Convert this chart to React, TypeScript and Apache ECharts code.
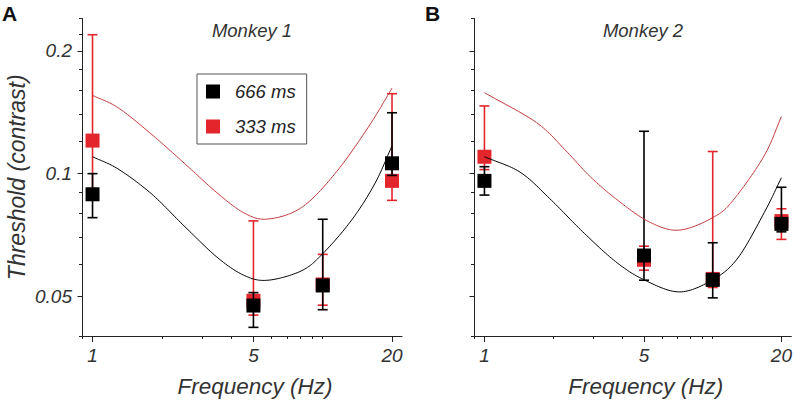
import React, { useEffect, useRef } from 'react';
import * as echarts from 'echarts';

// ---------- data ----------
const frequencies = [1, 5, 10, 20];

// Monkey 1
const m1BlackMean = [0.089, 0.0475, 0.0532, 0.106];
const m1BlackLow = [0.078, 0.042, 0.0464, 0.099];
const m1BlackHigh = [0.1, 0.0511, 0.0773, 0.141];
const m1RedMean = [0.1205, 0.0488, 0.0535, 0.096];
const m1RedLow = [0.092, 0.045, 0.0476, 0.086];
const m1RedHigh = [0.219, 0.0766, 0.0634, 0.157];

const m1BlackFitF = [1, 1.29, 1.8, 2.52, 3.51, 4.59, 5.79, 8.09, 10.04, 13.34, 16.84, 20];
const m1BlackFitV = [0.11, 0.1027, 0.0893, 0.0741, 0.0621, 0.0562, 0.0548, 0.0578, 0.0638, 0.0769, 0.0945, 0.117];
const m1RedFitF = [1, 1.29, 1.8, 2.52, 3.51, 4.59, 5.79, 8.09, 11.29, 15.75, 20];
const m1RedFitV = [0.1555, 0.1451, 0.125, 0.1057, 0.0893, 0.0799, 0.0774, 0.0826, 0.0999, 0.1298, 0.162];

// Monkey 2
const m2BlackMean = [0.096, 0.063, 0.0549, 0.0753];
const m2BlackLow = [0.0886, 0.0548, 0.0496, 0.072];
const m2BlackHigh = [0.104, 0.127, 0.0677, 0.0926];
const m2RedMean = [0.11, 0.0615, 0.0552, 0.0765];
const m2RedLow = [0.1023, 0.058, 0.0526, 0.069];
const m2RedHigh = [0.1465, 0.0664, 0.1133, 0.082];

const m2BlackFitF = [1, 1.43, 1.93, 2.69, 3.75, 4.98, 7.14, 10.03, 12.88, 16.82, 20];
const m2BlackFitV = [0.11, 0.1009, 0.0869, 0.0721, 0.0609, 0.055, 0.0513, 0.055, 0.0621, 0.0803, 0.0977];
const m2RedFitF = [1, 1.69, 2.28, 2.87, 3.75, 5.24, 7.14, 10.2, 12.46, 16.82, 20];
const m2RedFitV = [0.1579, 0.1334, 0.1136, 0.099, 0.0869, 0.0763, 0.0727, 0.0785, 0.0869, 0.1107, 0.138];

// axes
const xMin = 0.9;
const xMax = 22.1;
const yMin = 0.04;
const yMax = 0.24;
const xMinorTicks = [0.9, 1, 2, 3, 4, 5, 6, 7, 8, 9, 10, 20];
const xMajorTicks = [1, 5, 20];
const yMinorTicksA = [0.04, 0.05, 0.06, 0.07, 0.08, 0.09, 0.1, 0.12, 0.14, 0.16, 0.18, 0.2, 0.22, 0.24];
const yMinorTicksB = [0.04, 0.05, 0.06, 0.07, 0.08, 0.09, 0.1, 0.12, 0.14, 0.16, 0.18, 0.2, 0.24];
const yMajorTicks = [0.05, 0.1, 0.2];

const seriesNames = ['666 ms', '333 ms'];
const panelTitles = ['Monkey 1', 'Monkey 2'];
const panelLetters = ['A', 'B'];

const BLACK = '#000000';
const RED = '#e3262c';
const RED_FIT = '#c0393e';
const AXIS = '#222222';
const FONT = '"Liberation Sans", Arial, Helvetica, sans-serif';

const L = (v: number) => Math.log10(v);

const fmtY = (v: number) => {
  const r = Math.round(Math.pow(10, v) * 100) / 100;
  return String(r);
};
const fmtX = (v: number) => String(Math.round(Math.pow(10, v)));

// Catmull-Rom spline through pixel points (rendering only)
function spline(pts: number[][], steps: number): number[][] {
  const n = pts.length;
  if (n < 3) return pts;
  const out: number[][] = [];
  const get = (i: number) => {
    if (i < 0) return [2 * pts[0][0] - pts[1][0], 2 * pts[0][1] - pts[1][1]];
    if (i >= n) return [2 * pts[n - 1][0] - pts[n - 2][0], 2 * pts[n - 1][1] - pts[n - 2][1]];
    return pts[i];
  };
  for (let i = 0; i < n - 1; i++) {
    const p0 = get(i - 1), p1 = get(i), p2 = get(i + 1), p3 = get(i + 2);
    for (let s = 0; s < steps; s++) {
      const t = s / steps, t2 = t * t, t3 = t2 * t;
      const c = (k: number) =>
        0.5 * (2 * p1[k] + (-p0[k] + p2[k]) * t + (2 * p0[k] - 5 * p1[k] + 4 * p2[k] - p3[k]) * t2 +
          (-p0[k] + 3 * p1[k] - 3 * p2[k] + p3[k]) * t3);
      out.push([c(0), c(1)]);
    }
  }
  out.push(pts[n - 1]);
  return out;
}

export default function App() {
  const ref = useRef<HTMLDivElement>(null);

  useEffect(() => {
    if (!ref.current) return;
    const chart = echarts.init(ref.current, undefined, { renderer: 'svg' });

    const grids = [
      { left: 82, top: 18.5, width: 320, height: 320 },
      { left: 474, top: 18.5, width: 320, height: 320 },
    ];

    const xAxes: any[] = [];
    const yAxes: any[] = [];
    [0, 1].forEach((g) => {
      xAxes.push({
        type: 'value',
        gridIndex: g,
        position: 'bottom',
        min: L(xMin),
        max: L(xMax),
        axisLine: { show: true, onZero: false, lineStyle: { color: AXIS, width: 1 } },
        axisTick: { show: true, customValues: xMajorTicks.map(L), length: 6, lineStyle: { color: AXIS } },
        axisLabel: {
          show: true,
          customValues: xMajorTicks.map(L),
          formatter: fmtX,
          fontStyle: 'italic',
          fontSize: 19,
          fontFamily: FONT,
          color: '#333',
          margin: 10,
        },
        splitLine: { show: false },
        name: 'Frequency (Hz)',
        nameLocation: 'middle',
        nameGap: 39,
        nameTextStyle: {
          fontStyle: 'italic',
          fontSize: 22.5,
          fontFamily: FONT,
          color: '#333',
          padding: [0, 0, 0, 26],
        },
      });
      xAxes.push({
        type: 'value',
        gridIndex: g,
        position: 'bottom',
        min: L(xMin),
        max: L(xMax),
        axisLine: { show: false, onZero: false },
        axisTick: { show: true, customValues: xMinorTicks.map(L), length: 3, lineStyle: { color: AXIS } },
        axisLabel: { show: false },
        splitLine: { show: false },
      });
      yAxes.push({
        type: 'value',
        gridIndex: g,
        position: 'left',
        min: L(yMin),
        max: L(yMax),
        axisLine: { show: true, onZero: false, lineStyle: { color: AXIS, width: 1 } },
        axisTick: { show: true, customValues: yMajorTicks.map(L), length: 4.5, lineStyle: { color: AXIS } },
        axisLabel: {
          show: g === 0,
          customValues: yMajorTicks.map(L),
          formatter: fmtY,
          fontStyle: 'italic',
          fontSize: 19,
          fontFamily: FONT,
          color: '#333',
          margin: 10,
        },
        splitLine: { show: false },
        name: g === 0 ? 'Threshold (contrast)' : '',
        nameLocation: 'middle',
        nameGap: 54,
        nameTextStyle: { fontStyle: 'italic', fontSize: 23, fontFamily: FONT, color: '#333' },
      });
      yAxes.push({
        type: 'value',
        gridIndex: g,
        position: 'left',
        min: L(yMin),
        max: L(yMax),
        axisLine: { show: false, onZero: false },
        axisTick: {
          show: true,
          customValues: (g === 0 ? yMinorTicksA : yMinorTicksB).map(L),
          length: 3,
          lineStyle: { color: AXIS },
        },
        axisLabel: { show: false },
        splitLine: { show: false },
      });
    });

    const errorBar = (g: number, low: number[], high: number[], color: string, z: number) => ({
      type: 'custom',
      xAxisIndex: g * 2,
      yAxisIndex: g * 2,
      z,
      silent: true,
      encode: { x: 0, y: [1, 2] },
      data: frequencies.map((f, i) => [L(f), L(low[i]), L(high[i])]),
      renderItem: (params: any, api: any) => {
        const x = api.value(0);
        const pLo = api.coord([x, api.value(1)]);
        const pHi = api.coord([x, api.value(2)]);
        const hw = 5;
        const style = { stroke: color, lineWidth: 1.6, fill: 'none' };
        return {
          type: 'group',
          children: [
            { type: 'line', shape: { x1: pLo[0], y1: pLo[1], x2: pHi[0], y2: pHi[1] }, style },
            { type: 'line', shape: { x1: pLo[0] - hw, y1: pLo[1], x2: pLo[0] + hw, y2: pLo[1] }, style },
            { type: 'line', shape: { x1: pHi[0] - hw, y1: pHi[1], x2: pHi[0] + hw, y2: pHi[1] }, style },
          ],
        };
      },
    });

    const markers = (g: number, name: string, mean: number[], color: string, z: number) => ({
      type: 'scatter',
      name,
      xAxisIndex: g * 2,
      yAxisIndex: g * 2,
      z,
      symbol: 'rect',
      symbolSize: 14,
      itemStyle: { color, opacity: 1 },
      data: frequencies.map((f, i) => [L(f), L(mean[i])]),
    });

    const fit = (g: number, fs: number[], vs: number[], color: string, width: number, z: number) => {
      const data = fs.map((f, i) => [L(f), L(vs[i])]);
      return {
        type: 'custom',
        xAxisIndex: g * 2,
        yAxisIndex: g * 2,
        z,
        silent: true,
        encode: { x: 0, y: 1 },
        data,
        renderItem: (params: any, api: any) => {
          if (params.dataIndex !== 0) return null;
          const pts = data.map((d) => api.coord(d));
          return {
            type: 'polyline',
            shape: { points: spline(pts, 16) },
            style: { stroke: color, lineWidth: width, fill: 'none' },
          };
        },
      };
    };

    const panels = [
      {
        bm: m1BlackMean, bl: m1BlackLow, bh: m1BlackHigh,
        rm: m1RedMean, rl: m1RedLow, rh: m1RedHigh,
        bf: [m1BlackFitF, m1BlackFitV], rf: [m1RedFitF, m1RedFitV],
      },
      {
        bm: m2BlackMean, bl: m2BlackLow, bh: m2BlackHigh,
        rm: m2RedMean, rl: m2RedLow, rh: m2RedHigh,
        bf: [m2BlackFitF, m2BlackFitV], rf: [m2RedFitF, m2RedFitV],
      },
    ];

    const series: any[] = [];
    panels.forEach((p, g) => {
      series.push(errorBar(g, p.rl, p.rh, RED, 2));
      series.push(markers(g, seriesNames[1], p.rm, RED, 3));
      series.push(errorBar(g, p.bl, p.bh, BLACK, 4));
      series.push(markers(g, seriesNames[0], p.bm, BLACK, 5));
      series.push(fit(g, p.rf[0], p.rf[1], RED_FIT, 1, 6));
      series.push(fit(g, p.bf[0], p.bf[1], BLACK, 1, 7));
    });

    const titleCenters = [252, 643];
    const letterX = [2, 425];
    const graphic: any[] = [];
    [0, 1].forEach((g) => {
      graphic.push({
        type: 'text',
        x: titleCenters[g],
        y: 30,
        style: {
          text: panelTitles[g],
          align: 'center',
          verticalAlign: 'middle',
          fontSize: 18.5,
          fontStyle: 'italic',
          fontFamily: FONT,
          fill: '#333',
        },
      });
      graphic.push({
        type: 'text',
        x: letterX[g],
        y: 13,
        style: {
          text: panelLetters[g],
          align: 'left',
          verticalAlign: 'middle',
          fontSize: 21,
          fontWeight: 'bold',
          fontFamily: FONT,
          fill: '#111',
        },
      });
    });

    chart.setOption({
      animation: false,
      backgroundColor: '#ffffff',
      grid: grids,
      xAxis: xAxes,
      yAxis: yAxes,
      legend: {
        data: seriesNames,
        left: 197,
        top: 74,
        orient: 'vertical',
        selectedMode: false,
        borderColor: '#555',
        borderWidth: 1,
        padding: [8, 11, 8, 9],
        itemGap: 16,
        itemWidth: 14,
        itemHeight: 14,
        icon: 'rect',
        textStyle: {
          fontStyle: 'italic',
          fontSize: 18.5,
          lineHeight: 14,
          fontFamily: FONT,
          color: '#222',
          padding: [0, 0, 0, 10],
        },
      },
      graphic,
      series,
    });

    return () => chart.dispose();
  }, []);

  return (
    <div
      ref={ref}
      style={{ position: 'fixed', left: 0, top: 0, width: 795, height: 403, background: '#fff' }}
    />
  );
}
